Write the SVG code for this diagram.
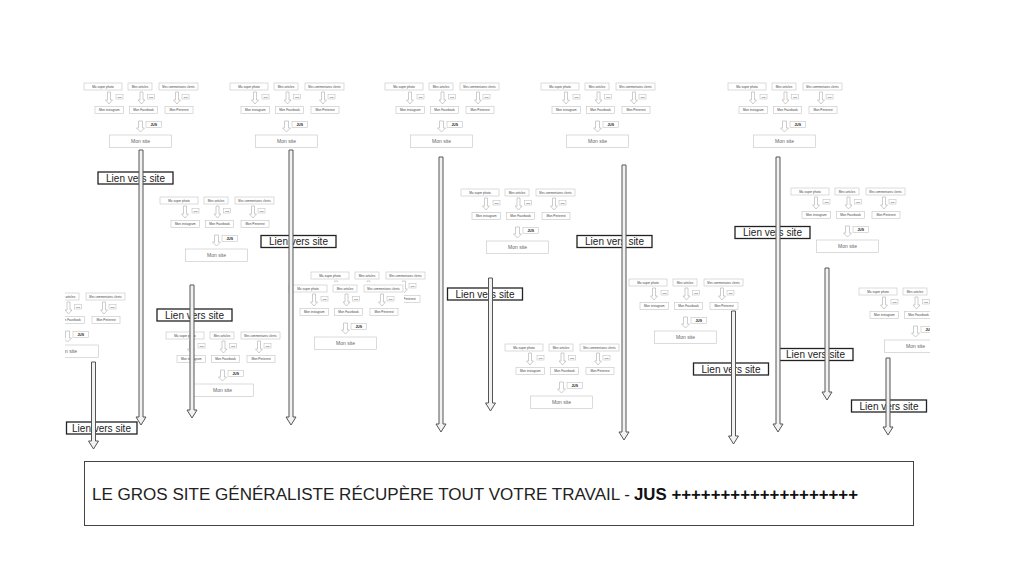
<svg xmlns="http://www.w3.org/2000/svg" width="1024" height="569" viewBox="0 0 1024 569">
<style>
.bg{fill:#ffffff}
.b{fill:#ffffff;stroke:#c4c4c4;stroke-width:0.6}
.t{font-family:"Liberation Sans",Arial,sans-serif;font-size:3.1px;fill:#444;text-anchor:middle}
.tc{font-family:"Liberation Sans",Arial,sans-serif;font-size:2.8px;fill:#444;text-anchor:middle}
.j{font-family:"Liberation Sans",Arial,sans-serif;font-size:2.2px;fill:#444;text-anchor:middle}
.jb{font-family:"Liberation Sans",Arial,sans-serif;font-size:3.4px;font-weight:bold;fill:#222;text-anchor:middle}
.ms{font-family:"Liberation Sans",Arial,sans-serif;font-size:5px;fill:#666;text-anchor:middle}
.sa{fill:#ffffff;stroke:#b8b8b8;stroke-width:0.7}
.la{fill:#f2f2f2;stroke:#555;stroke-width:1}
.lb{fill:#ffffff;stroke:#222;stroke-width:1.3}
.lt{font-family:"Liberation Sans",Arial,sans-serif;font-size:10px;fill:#222;text-anchor:middle}
.big{fill:#ffffff;stroke:#444;stroke-width:1}
.bt{font-family:"Liberation Sans",Arial,sans-serif;font-size:16.8px;fill:#222}
.btb{font-family:"Liberation Sans",Arial,sans-serif;font-size:16.8px;font-weight:bold;fill:#111}
</style>
<defs>
<clipPath id="clipLeft"><rect x="65" y="0" width="959" height="569"/></clipPath>
<clipPath id="clipRight"><rect x="0" y="0" width="930" height="569"/></clipPath>
</defs>
<rect class="bg" x="0" y="0" width="1024" height="569"/>

<g id="cluster-A">
<rect class="b" x="84" y="83" width="38" height="7"/><rect class="b" x="128" y="83" width="24" height="7"/><rect class="b" x="159" y="83" width="39" height="7"/>
<text class="t" x="103" y="87.6">Ma super photo</text><text class="t" x="140" y="87.6">Mes articles</text><text class="tc" x="178.5" y="87.5">Mes commentaires clients</text>
<path class="sa" d="M107.5,92h3v8h2l-3.5,4l-3.5,-4h2z"/><path class="sa" d="M140,92h3v8h2l-3.5,4l-3.5,-4h2z"/><path class="sa" d="M175.5,92h3v8h2l-3.5,4l-3.5,-4h2z"/>
<rect class="b" x="116" y="94.5" width="7" height="4.5"/><rect class="b" x="147.5" y="94.5" width="7" height="4.5"/><rect class="b" x="182" y="94.5" width="7" height="4.5"/>
<text class="j" x="119.5" y="97.5">JUS</text><text class="j" x="151" y="97.5">JUS</text><text class="j" x="185.5" y="97.5">JUS</text>
<rect class="b" x="95" y="106.5" width="28.5" height="7"/><rect class="b" x="129.5" y="106.5" width="28" height="7"/><rect class="b" x="165" y="106.5" width="28" height="7"/>
<text class="t" x="109.25" y="111.1">Mon instagram</text><text class="t" x="143.5" y="111.1">Mon Facebook</text><text class="t" x="179" y="111.1">Mon Pinterest</text>
<path class="sa" d="M138.5,121h4v7h2l-4,4l-4,-4h2z"/>
<rect class="b" x="146" y="121.5" width="15.5" height="6"/><text class="jb" x="153.75" y="125.8">JUS</text>
<rect class="b" x="109.5" y="135" width="62" height="12.5"/><text class="ms" x="140.5" y="143">Mon site</text>
</g>

<g id="cluster-B" transform="translate(146,0)">
<rect class="b" x="84" y="83" width="38" height="7"/><rect class="b" x="128" y="83" width="24" height="7"/><rect class="b" x="159" y="83" width="39" height="7"/>
<text class="t" x="103" y="87.6">Ma super photo</text><text class="t" x="140" y="87.6">Mes articles</text><text class="tc" x="178.5" y="87.5">Mes commentaires clients</text>
<path class="sa" d="M107.5,92h3v8h2l-3.5,4l-3.5,-4h2z"/><path class="sa" d="M140,92h3v8h2l-3.5,4l-3.5,-4h2z"/><path class="sa" d="M175.5,92h3v8h2l-3.5,4l-3.5,-4h2z"/>
<rect class="b" x="116" y="94.5" width="7" height="4.5"/><rect class="b" x="147.5" y="94.5" width="7" height="4.5"/><rect class="b" x="182" y="94.5" width="7" height="4.5"/>
<text class="j" x="119.5" y="97.5">JUS</text><text class="j" x="151" y="97.5">JUS</text><text class="j" x="185.5" y="97.5">JUS</text>
<rect class="b" x="95" y="106.5" width="28.5" height="7"/><rect class="b" x="129.5" y="106.5" width="28" height="7"/><rect class="b" x="165" y="106.5" width="28" height="7"/>
<text class="t" x="109.25" y="111.1">Mon instagram</text><text class="t" x="143.5" y="111.1">Mon Facebook</text><text class="t" x="179" y="111.1">Mon Pinterest</text>
<path class="sa" d="M138.5,121h4v7h2l-4,4l-4,-4h2z"/>
<rect class="b" x="146" y="121.5" width="15.5" height="6"/><text class="jb" x="153.75" y="125.8">JUS</text>
<rect class="b" x="109.5" y="135" width="62" height="12.5"/><text class="ms" x="140.5" y="143">Mon site</text>
</g>

<g id="cluster-C" transform="translate(301,0)">
<rect class="b" x="84" y="83" width="38" height="7"/><rect class="b" x="128" y="83" width="24" height="7"/><rect class="b" x="159" y="83" width="39" height="7"/>
<text class="t" x="103" y="87.6">Ma super photo</text><text class="t" x="140" y="87.6">Mes articles</text><text class="tc" x="178.5" y="87.5">Mes commentaires clients</text>
<path class="sa" d="M107.5,92h3v8h2l-3.5,4l-3.5,-4h2z"/><path class="sa" d="M140,92h3v8h2l-3.5,4l-3.5,-4h2z"/><path class="sa" d="M175.5,92h3v8h2l-3.5,4l-3.5,-4h2z"/>
<rect class="b" x="116" y="94.5" width="7" height="4.5"/><rect class="b" x="147.5" y="94.5" width="7" height="4.5"/><rect class="b" x="182" y="94.5" width="7" height="4.5"/>
<text class="j" x="119.5" y="97.5">JUS</text><text class="j" x="151" y="97.5">JUS</text><text class="j" x="185.5" y="97.5">JUS</text>
<rect class="b" x="95" y="106.5" width="28.5" height="7"/><rect class="b" x="129.5" y="106.5" width="28" height="7"/><rect class="b" x="165" y="106.5" width="28" height="7"/>
<text class="t" x="109.25" y="111.1">Mon instagram</text><text class="t" x="143.5" y="111.1">Mon Facebook</text><text class="t" x="179" y="111.1">Mon Pinterest</text>
<path class="sa" d="M138.5,121h4v7h2l-4,4l-4,-4h2z"/>
<rect class="b" x="146" y="121.5" width="15.5" height="6"/><text class="jb" x="153.75" y="125.8">JUS</text>
<rect class="b" x="109.5" y="135" width="62" height="12.5"/><text class="ms" x="140.5" y="143">Mon site</text>
</g>

<g id="cluster-D" transform="translate(457,0)">
<rect class="b" x="84" y="83" width="38" height="7"/><rect class="b" x="128" y="83" width="24" height="7"/><rect class="b" x="159" y="83" width="39" height="7"/>
<text class="t" x="103" y="87.6">Ma super photo</text><text class="t" x="140" y="87.6">Mes articles</text><text class="tc" x="178.5" y="87.5">Mes commentaires clients</text>
<path class="sa" d="M107.5,92h3v8h2l-3.5,4l-3.5,-4h2z"/><path class="sa" d="M140,92h3v8h2l-3.5,4l-3.5,-4h2z"/><path class="sa" d="M175.5,92h3v8h2l-3.5,4l-3.5,-4h2z"/>
<rect class="b" x="116" y="94.5" width="7" height="4.5"/><rect class="b" x="147.5" y="94.5" width="7" height="4.5"/><rect class="b" x="182" y="94.5" width="7" height="4.5"/>
<text class="j" x="119.5" y="97.5">JUS</text><text class="j" x="151" y="97.5">JUS</text><text class="j" x="185.5" y="97.5">JUS</text>
<rect class="b" x="95" y="106.5" width="28.5" height="7"/><rect class="b" x="129.5" y="106.5" width="28" height="7"/><rect class="b" x="165" y="106.5" width="28" height="7"/>
<text class="t" x="109.25" y="111.1">Mon instagram</text><text class="t" x="143.5" y="111.1">Mon Facebook</text><text class="t" x="179" y="111.1">Mon Pinterest</text>
<path class="sa" d="M138.5,121h4v7h2l-4,4l-4,-4h2z"/>
<rect class="b" x="146" y="121.5" width="15.5" height="6"/><text class="jb" x="153.75" y="125.8">JUS</text>
<rect class="b" x="109.5" y="135" width="62" height="12.5"/><text class="ms" x="140.5" y="143">Mon site</text>
</g>

<g id="cluster-E" transform="translate(644,0)">
<rect class="b" x="84" y="83" width="38" height="7"/><rect class="b" x="128" y="83" width="24" height="7"/><rect class="b" x="159" y="83" width="39" height="7"/>
<text class="t" x="103" y="87.6">Ma super photo</text><text class="t" x="140" y="87.6">Mes articles</text><text class="tc" x="178.5" y="87.5">Mes commentaires clients</text>
<path class="sa" d="M107.5,92h3v8h2l-3.5,4l-3.5,-4h2z"/><path class="sa" d="M140,92h3v8h2l-3.5,4l-3.5,-4h2z"/><path class="sa" d="M175.5,92h3v8h2l-3.5,4l-3.5,-4h2z"/>
<rect class="b" x="116" y="94.5" width="7" height="4.5"/><rect class="b" x="147.5" y="94.5" width="7" height="4.5"/><rect class="b" x="182" y="94.5" width="7" height="4.5"/>
<text class="j" x="119.5" y="97.5">JUS</text><text class="j" x="151" y="97.5">JUS</text><text class="j" x="185.5" y="97.5">JUS</text>
<rect class="b" x="95" y="106.5" width="28.5" height="7"/><rect class="b" x="129.5" y="106.5" width="28" height="7"/><rect class="b" x="165" y="106.5" width="28" height="7"/>
<text class="t" x="109.25" y="111.1">Mon instagram</text><text class="t" x="143.5" y="111.1">Mon Facebook</text><text class="t" x="179" y="111.1">Mon Pinterest</text>
<path class="sa" d="M138.5,121h4v7h2l-4,4l-4,-4h2z"/>
<rect class="b" x="146" y="121.5" width="15.5" height="6"/><text class="jb" x="153.75" y="125.8">JUS</text>
<rect class="b" x="109.5" y="135" width="62" height="12.5"/><text class="ms" x="140.5" y="143">Mon site</text>
</g>

<g id="cluster-F" transform="translate(76,114)">
<rect class="b" x="84" y="83" width="38" height="7"/><rect class="b" x="128" y="83" width="24" height="7"/><rect class="b" x="159" y="83" width="39" height="7"/>
<text class="t" x="103" y="87.6">Ma super photo</text><text class="t" x="140" y="87.6">Mes articles</text><text class="tc" x="178.5" y="87.5">Mes commentaires clients</text>
<path class="sa" d="M107.5,92h3v8h2l-3.5,4l-3.5,-4h2z"/><path class="sa" d="M140,92h3v8h2l-3.5,4l-3.5,-4h2z"/><path class="sa" d="M175.5,92h3v8h2l-3.5,4l-3.5,-4h2z"/>
<rect class="b" x="116" y="94.5" width="7" height="4.5"/><rect class="b" x="147.5" y="94.5" width="7" height="4.5"/><rect class="b" x="182" y="94.5" width="7" height="4.5"/>
<text class="j" x="119.5" y="97.5">JUS</text><text class="j" x="151" y="97.5">JUS</text><text class="j" x="185.5" y="97.5">JUS</text>
<rect class="b" x="95" y="106.5" width="28.5" height="7"/><rect class="b" x="129.5" y="106.5" width="28" height="7"/><rect class="b" x="165" y="106.5" width="28" height="7"/>
<text class="t" x="109.25" y="111.1">Mon instagram</text><text class="t" x="143.5" y="111.1">Mon Facebook</text><text class="t" x="179" y="111.1">Mon Pinterest</text>
<path class="sa" d="M138.5,121h4v7h2l-4,4l-4,-4h2z"/>
<rect class="b" x="146" y="121.5" width="15.5" height="6"/><text class="jb" x="153.75" y="125.8">JUS</text>
<rect class="b" x="109.5" y="135" width="62" height="12.5"/><text class="ms" x="140.5" y="143">Mon site</text>
</g>

<g id="cluster-G" transform="translate(377,106)">
<rect class="b" x="84" y="83" width="38" height="7"/><rect class="b" x="128" y="83" width="24" height="7"/><rect class="b" x="159" y="83" width="39" height="7"/>
<text class="t" x="103" y="87.6">Ma super photo</text><text class="t" x="140" y="87.6">Mes articles</text><text class="tc" x="178.5" y="87.5">Mes commentaires clients</text>
<path class="sa" d="M107.5,92h3v8h2l-3.5,4l-3.5,-4h2z"/><path class="sa" d="M140,92h3v8h2l-3.5,4l-3.5,-4h2z"/><path class="sa" d="M175.5,92h3v8h2l-3.5,4l-3.5,-4h2z"/>
<rect class="b" x="116" y="94.5" width="7" height="4.5"/><rect class="b" x="147.5" y="94.5" width="7" height="4.5"/><rect class="b" x="182" y="94.5" width="7" height="4.5"/>
<text class="j" x="119.5" y="97.5">JUS</text><text class="j" x="151" y="97.5">JUS</text><text class="j" x="185.5" y="97.5">JUS</text>
<rect class="b" x="95" y="106.5" width="28.5" height="7"/><rect class="b" x="129.5" y="106.5" width="28" height="7"/><rect class="b" x="165" y="106.5" width="28" height="7"/>
<text class="t" x="109.25" y="111.1">Mon instagram</text><text class="t" x="143.5" y="111.1">Mon Facebook</text><text class="t" x="179" y="111.1">Mon Pinterest</text>
<path class="sa" d="M138.5,121h4v7h2l-4,4l-4,-4h2z"/>
<rect class="b" x="146" y="121.5" width="15.5" height="6"/><text class="jb" x="153.75" y="125.8">JUS</text>
<rect class="b" x="109.5" y="135" width="62" height="12.5"/><text class="ms" x="140.5" y="143">Mon site</text>
</g>

<g id="cluster-H" transform="translate(707,105)">
<rect class="b" x="84" y="83" width="38" height="7"/><rect class="b" x="128" y="83" width="24" height="7"/><rect class="b" x="159" y="83" width="39" height="7"/>
<text class="t" x="103" y="87.6">Ma super photo</text><text class="t" x="140" y="87.6">Mes articles</text><text class="tc" x="178.5" y="87.5">Mes commentaires clients</text>
<path class="sa" d="M107.5,92h3v8h2l-3.5,4l-3.5,-4h2z"/><path class="sa" d="M140,92h3v8h2l-3.5,4l-3.5,-4h2z"/><path class="sa" d="M175.5,92h3v8h2l-3.5,4l-3.5,-4h2z"/>
<rect class="b" x="116" y="94.5" width="7" height="4.5"/><rect class="b" x="147.5" y="94.5" width="7" height="4.5"/><rect class="b" x="182" y="94.5" width="7" height="4.5"/>
<text class="j" x="119.5" y="97.5">JUS</text><text class="j" x="151" y="97.5">JUS</text><text class="j" x="185.5" y="97.5">JUS</text>
<rect class="b" x="95" y="106.5" width="28.5" height="7"/><rect class="b" x="129.5" y="106.5" width="28" height="7"/><rect class="b" x="165" y="106.5" width="28" height="7"/>
<text class="t" x="109.25" y="111.1">Mon instagram</text><text class="t" x="143.5" y="111.1">Mon Facebook</text><text class="t" x="179" y="111.1">Mon Pinterest</text>
<path class="sa" d="M138.5,121h4v7h2l-4,4l-4,-4h2z"/>
<rect class="b" x="146" y="121.5" width="15.5" height="6"/><text class="jb" x="153.75" y="125.8">JUS</text>
<rect class="b" x="109.5" y="135" width="62" height="12.5"/><text class="ms" x="140.5" y="143">Mon site</text>
</g>

<g id="cluster-I" clip-path="url(#clipLeft)">
<g transform="translate(-73,210)">
<rect class="b" x="84" y="83" width="38" height="7"/><rect class="b" x="128" y="83" width="24" height="7"/><rect class="b" x="159" y="83" width="39" height="7"/>
<text class="t" x="103" y="87.6">Ma super photo</text><text class="t" x="140" y="87.6">Mes articles</text><text class="tc" x="178.5" y="87.5">Mes commentaires clients</text>
<path class="sa" d="M107.5,92h3v8h2l-3.5,4l-3.5,-4h2z"/><path class="sa" d="M140,92h3v8h2l-3.5,4l-3.5,-4h2z"/><path class="sa" d="M175.5,92h3v8h2l-3.5,4l-3.5,-4h2z"/>
<rect class="b" x="116" y="94.5" width="7" height="4.5"/><rect class="b" x="147.5" y="94.5" width="7" height="4.5"/><rect class="b" x="182" y="94.5" width="7" height="4.5"/>
<text class="j" x="119.5" y="97.5">JUS</text><text class="j" x="151" y="97.5">JUS</text><text class="j" x="185.5" y="97.5">JUS</text>
<rect class="b" x="95" y="106.5" width="28.5" height="7"/><rect class="b" x="129.5" y="106.5" width="28" height="7"/><rect class="b" x="165" y="106.5" width="28" height="7"/>
<text class="t" x="109.25" y="111.1">Mon instagram</text><text class="t" x="143.5" y="111.1">Mon Facebook</text><text class="t" x="179" y="111.1">Mon Pinterest</text>
<path class="sa" d="M138.5,121h4v7h2l-4,4l-4,-4h2z"/>
<rect class="b" x="146" y="121.5" width="15.5" height="6"/><text class="jb" x="153.75" y="125.8">JUS</text>
<rect class="b" x="109.5" y="135" width="62" height="12.5"/><text class="ms" x="140.5" y="143">Mon site</text>
</g>
</g>

<g id="cluster-J-back" transform="translate(227,189)">
<rect class="b" x="84" y="83" width="38" height="7"/><rect class="b" x="128" y="83" width="24" height="7"/><rect class="b" x="159" y="83" width="39" height="7"/>
<text class="t" x="103" y="87.6">Ma super photo</text><text class="t" x="140" y="87.6">Mes articles</text><text class="tc" x="178.5" y="87.5">Mes commentaires clients</text>
<path class="sa" d="M107.5,92h3v8h2l-3.5,4l-3.5,-4h2z"/><path class="sa" d="M140,92h3v8h2l-3.5,4l-3.5,-4h2z"/><path class="sa" d="M175.5,92h3v8h2l-3.5,4l-3.5,-4h2z"/>
<rect class="b" x="116" y="94.5" width="7" height="4.5"/><rect class="b" x="147.5" y="94.5" width="7" height="4.5"/><rect class="b" x="182" y="94.5" width="7" height="4.5"/>
<text class="j" x="119.5" y="97.5">JUS</text><text class="j" x="151" y="97.5">JUS</text><text class="j" x="185.5" y="97.5">JUS</text>
<rect class="b" x="95" y="106.5" width="28.5" height="7"/><rect class="b" x="129.5" y="106.5" width="28" height="7"/><rect class="b" x="165" y="106.5" width="28" height="7"/>
<text class="t" x="109.25" y="111.1">Mon instagram</text><text class="t" x="143.5" y="111.1">Mon Facebook</text><text class="t" x="179" y="111.1">Mon Pinterest</text>
</g>

<g id="cluster-J" transform="translate(205,202)">
<rect class="bg" x="88" y="80" width="111" height="73"/>
<rect class="b" x="84" y="83" width="38" height="7"/><rect class="b" x="128" y="83" width="24" height="7"/><rect class="b" x="159" y="83" width="39" height="7"/>
<text class="t" x="103" y="87.6">Ma super photo</text><text class="t" x="140" y="87.6">Mes articles</text><text class="tc" x="178.5" y="87.5">Mes commentaires clients</text>
<path class="sa" d="M107.5,92h3v8h2l-3.5,4l-3.5,-4h2z"/><path class="sa" d="M140,92h3v8h2l-3.5,4l-3.5,-4h2z"/><path class="sa" d="M175.5,92h3v8h2l-3.5,4l-3.5,-4h2z"/>
<rect class="b" x="116" y="94.5" width="7" height="4.5"/><rect class="b" x="147.5" y="94.5" width="7" height="4.5"/><rect class="b" x="182" y="94.5" width="7" height="4.5"/>
<text class="j" x="119.5" y="97.5">JUS</text><text class="j" x="151" y="97.5">JUS</text><text class="j" x="185.5" y="97.5">JUS</text>
<rect class="b" x="95" y="106.5" width="28.5" height="7"/><rect class="b" x="129.5" y="106.5" width="28" height="7"/><rect class="b" x="165" y="106.5" width="28" height="7"/>
<text class="t" x="109.25" y="111.1">Mon instagram</text><text class="t" x="143.5" y="111.1">Mon Facebook</text><text class="t" x="179" y="111.1">Mon Pinterest</text>
<path class="sa" d="M138.5,121h4v7h2l-4,4l-4,-4h2z"/>
<rect class="b" x="146" y="121.5" width="15.5" height="6"/><text class="jb" x="153.75" y="125.8">JUS</text>
<rect class="b" x="109.5" y="135" width="62" height="12.5"/><text class="ms" x="140.5" y="143">Mon site</text>
</g>

<g id="cluster-K" transform="translate(545,196)">
<rect class="b" x="84" y="83" width="38" height="7"/><rect class="b" x="128" y="83" width="24" height="7"/><rect class="b" x="159" y="83" width="39" height="7"/>
<text class="t" x="103" y="87.6">Ma super photo</text><text class="t" x="140" y="87.6">Mes articles</text><text class="tc" x="178.5" y="87.5">Mes commentaires clients</text>
<path class="sa" d="M107.5,92h3v8h2l-3.5,4l-3.5,-4h2z"/><path class="sa" d="M140,92h3v8h2l-3.5,4l-3.5,-4h2z"/><path class="sa" d="M175.5,92h3v8h2l-3.5,4l-3.5,-4h2z"/>
<rect class="b" x="116" y="94.5" width="7" height="4.5"/><rect class="b" x="147.5" y="94.5" width="7" height="4.5"/><rect class="b" x="182" y="94.5" width="7" height="4.5"/>
<text class="j" x="119.5" y="97.5">JUS</text><text class="j" x="151" y="97.5">JUS</text><text class="j" x="185.5" y="97.5">JUS</text>
<rect class="b" x="95" y="106.5" width="28.5" height="7"/><rect class="b" x="129.5" y="106.5" width="28" height="7"/><rect class="b" x="165" y="106.5" width="28" height="7"/>
<text class="t" x="109.25" y="111.1">Mon instagram</text><text class="t" x="143.5" y="111.1">Mon Facebook</text><text class="t" x="179" y="111.1">Mon Pinterest</text>
<path class="sa" d="M138.5,121h4v7h2l-4,4l-4,-4h2z"/>
<rect class="b" x="146" y="121.5" width="15.5" height="6"/><text class="jb" x="153.75" y="125.8">JUS</text>
<rect class="b" x="109.5" y="135" width="62" height="12.5"/><text class="ms" x="140.5" y="143">Mon site</text>
</g>

<g id="cluster-L" clip-path="url(#clipRight)">
<g transform="translate(775,205)">
<rect class="b" x="84" y="83" width="38" height="7"/><rect class="b" x="128" y="83" width="24" height="7"/><rect class="b" x="159" y="83" width="39" height="7"/>
<text class="t" x="103" y="87.6">Ma super photo</text><text class="t" x="140" y="87.6">Mes articles</text><text class="tc" x="178.5" y="87.5">Mes commentaires clients</text>
<path class="sa" d="M107.5,92h3v8h2l-3.5,4l-3.5,-4h2z"/><path class="sa" d="M140,92h3v8h2l-3.5,4l-3.5,-4h2z"/><path class="sa" d="M175.5,92h3v8h2l-3.5,4l-3.5,-4h2z"/>
<rect class="b" x="116" y="94.5" width="7" height="4.5"/><rect class="b" x="147.5" y="94.5" width="7" height="4.5"/><rect class="b" x="182" y="94.5" width="7" height="4.5"/>
<text class="j" x="119.5" y="97.5">JUS</text><text class="j" x="151" y="97.5">JUS</text><text class="j" x="185.5" y="97.5">JUS</text>
<rect class="b" x="95" y="106.5" width="28.5" height="7"/><rect class="b" x="129.5" y="106.5" width="28" height="7"/><rect class="b" x="165" y="106.5" width="28" height="7"/>
<text class="t" x="109.25" y="111.1">Mon instagram</text><text class="t" x="143.5" y="111.1">Mon Facebook</text><text class="t" x="179" y="111.1">Mon Pinterest</text>
<path class="sa" d="M138.5,121h4v7h2l-4,4l-4,-4h2z"/>
<rect class="b" x="146" y="121.5" width="15.5" height="6"/><text class="jb" x="153.75" y="125.8">JUS</text>
<rect class="b" x="109.5" y="135" width="62" height="12.5"/><text class="ms" x="140.5" y="143">Mon site</text>
</g>
</g>

<g id="cluster-M" transform="translate(82,249)">
<rect class="b" x="84" y="83" width="38" height="7"/><rect class="b" x="128" y="83" width="24" height="7"/><rect class="b" x="159" y="83" width="39" height="7"/>
<text class="t" x="103" y="87.6">Ma super photo</text><text class="t" x="140" y="87.6">Mes articles</text><text class="tc" x="178.5" y="87.5">Mes commentaires clients</text>
<path class="sa" d="M107.5,92h3v8h2l-3.5,4l-3.5,-4h2z"/><path class="sa" d="M140,92h3v8h2l-3.5,4l-3.5,-4h2z"/><path class="sa" d="M175.5,92h3v8h2l-3.5,4l-3.5,-4h2z"/>
<rect class="b" x="116" y="94.5" width="7" height="4.5"/><rect class="b" x="147.5" y="94.5" width="7" height="4.5"/><rect class="b" x="182" y="94.5" width="7" height="4.5"/>
<text class="j" x="119.5" y="97.5">JUS</text><text class="j" x="151" y="97.5">JUS</text><text class="j" x="185.5" y="97.5">JUS</text>
<rect class="b" x="95" y="106.5" width="28.5" height="7"/><rect class="b" x="129.5" y="106.5" width="28" height="7"/><rect class="b" x="165" y="106.5" width="28" height="7"/>
<text class="t" x="109.25" y="111.1">Mon instagram</text><text class="t" x="143.5" y="111.1">Mon Facebook</text><text class="t" x="179" y="111.1">Mon Pinterest</text>
<path class="sa" d="M138.5,121h4v7h2l-4,4l-4,-4h2z"/>
<rect class="b" x="146" y="121.5" width="15.5" height="6"/><text class="jb" x="153.75" y="125.8">JUS</text>
<rect class="b" x="109.5" y="135" width="62" height="12.5"/><text class="ms" x="140.5" y="143">Mon site</text>
</g>

<g id="cluster-N" transform="translate(421,261)">
<rect class="b" x="84" y="83" width="38" height="7"/><rect class="b" x="128" y="83" width="24" height="7"/><rect class="b" x="159" y="83" width="39" height="7"/>
<text class="t" x="103" y="87.6">Ma super photo</text><text class="t" x="140" y="87.6">Mes articles</text><text class="tc" x="178.5" y="87.5">Mes commentaires clients</text>
<path class="sa" d="M107.5,92h3v8h2l-3.5,4l-3.5,-4h2z"/><path class="sa" d="M140,92h3v8h2l-3.5,4l-3.5,-4h2z"/><path class="sa" d="M175.5,92h3v8h2l-3.5,4l-3.5,-4h2z"/>
<rect class="b" x="116" y="94.5" width="7" height="4.5"/><rect class="b" x="147.5" y="94.5" width="7" height="4.5"/><rect class="b" x="182" y="94.5" width="7" height="4.5"/>
<text class="j" x="119.5" y="97.5">JUS</text><text class="j" x="151" y="97.5">JUS</text><text class="j" x="185.5" y="97.5">JUS</text>
<rect class="b" x="95" y="106.5" width="28.5" height="7"/><rect class="b" x="129.5" y="106.5" width="28" height="7"/><rect class="b" x="165" y="106.5" width="28" height="7"/>
<text class="t" x="109.25" y="111.1">Mon instagram</text><text class="t" x="143.5" y="111.1">Mon Facebook</text><text class="t" x="179" y="111.1">Mon Pinterest</text>
<path class="sa" d="M138.5,121h4v7h2l-4,4l-4,-4h2z"/>
<rect class="b" x="146" y="121.5" width="15.5" height="6"/><text class="jb" x="153.75" y="125.8">JUS</text>
<rect class="b" x="109.5" y="135" width="62" height="12.5"/><text class="ms" x="140.5" y="143">Mon site</text>
</g>

<g id="links">
<g id="lien-1"><rect class="lb" x="98" y="172" width="75" height="12"/><text class="lt" x="135.5" y="181.6">Lien vers site</text></g>
<g id="lien-2"><rect class="lb" x="261" y="235.5" width="75" height="12"/><text class="lt" x="298.5" y="245.1">Lien vers site</text></g>
<g id="lien-3"><rect class="lb" x="447.5" y="288" width="75" height="12"/><text class="lt" x="485" y="297.6">Lien vers site</text></g>
<g id="lien-4"><rect class="lb" x="577" y="235.5" width="75" height="12"/><text class="lt" x="614.5" y="245.1">Lien vers site</text></g>
<g id="lien-5"><rect class="lb" x="735" y="226.5" width="75" height="12"/><text class="lt" x="772.5" y="236.1">Lien vers site</text></g>
<g id="lien-6"><rect class="lb" x="157" y="309" width="75" height="12"/><text class="lt" x="194.5" y="318.6">Lien vers site</text></g>
<g id="lien-7"><rect class="lb" x="693.5" y="363" width="75" height="12"/><text class="lt" x="731" y="372.6">Lien vers site</text></g>
<g id="lien-8"><rect class="lb" x="778" y="348.5" width="75" height="12"/><text class="lt" x="815.5" y="358.1">Lien vers site</text></g>
<g id="lien-9"><rect class="lb" x="851.5" y="400" width="75" height="12"/><text class="lt" x="889" y="409.6">Lien vers site</text></g>
<g id="lien-10"><rect class="lb" x="66.5" y="422" width="70.5" height="12"/><text class="lt" x="101.5" y="431.6">Lien vers site</text></g>
</g>

<g id="connectors">
<path class="la" d="M139,150h4V417h3l-5,8l-5,-8h3z"/>
<path class="la" d="M289,150h4V417h3l-5,8l-5,-8h3z"/>
<path class="la" d="M439,157h4V424h3l-5,8l-5,-8h3z"/>
<path class="la" d="M622,165h4V432h3l-5,8l-5,-8h3z"/>
<path class="la" d="M776,157h4V424h3l-5,8l-5,-8h3z"/>
<path class="la" d="M190,285h4V410h3l-5,8l-5,-8h3z"/>
<path class="la" d="M488.5,278h4V403h3l-5,8l-5,-8h3z"/>
<path class="la" d="M825,268h4V392h3l-5,8l-5,-8h3z"/>
<path class="la" d="M91.5,362h4V441h3l-5,8l-5,-8h3z"/>
<path class="la" d="M731.5,311h4V436h3l-5,8l-5,-8h3z"/>
<path class="la" d="M886,358h4V427h3l-5,8l-5,-8h3z"/>
</g>

<g id="summary">
<rect class="big" x="84.5" y="461.5" width="829" height="64"/>
<text class="bt" x="92" y="500" textLength="538" lengthAdjust="spacingAndGlyphs">LE GROS SITE GÉNÉRALISTE RÉCUPÈRE TOUT VOTRE TRAVAIL -</text>
<text class="btb" x="634" y="500" textLength="224" lengthAdjust="spacingAndGlyphs">JUS +++++++++++++++++++</text>
</g>
</svg>
